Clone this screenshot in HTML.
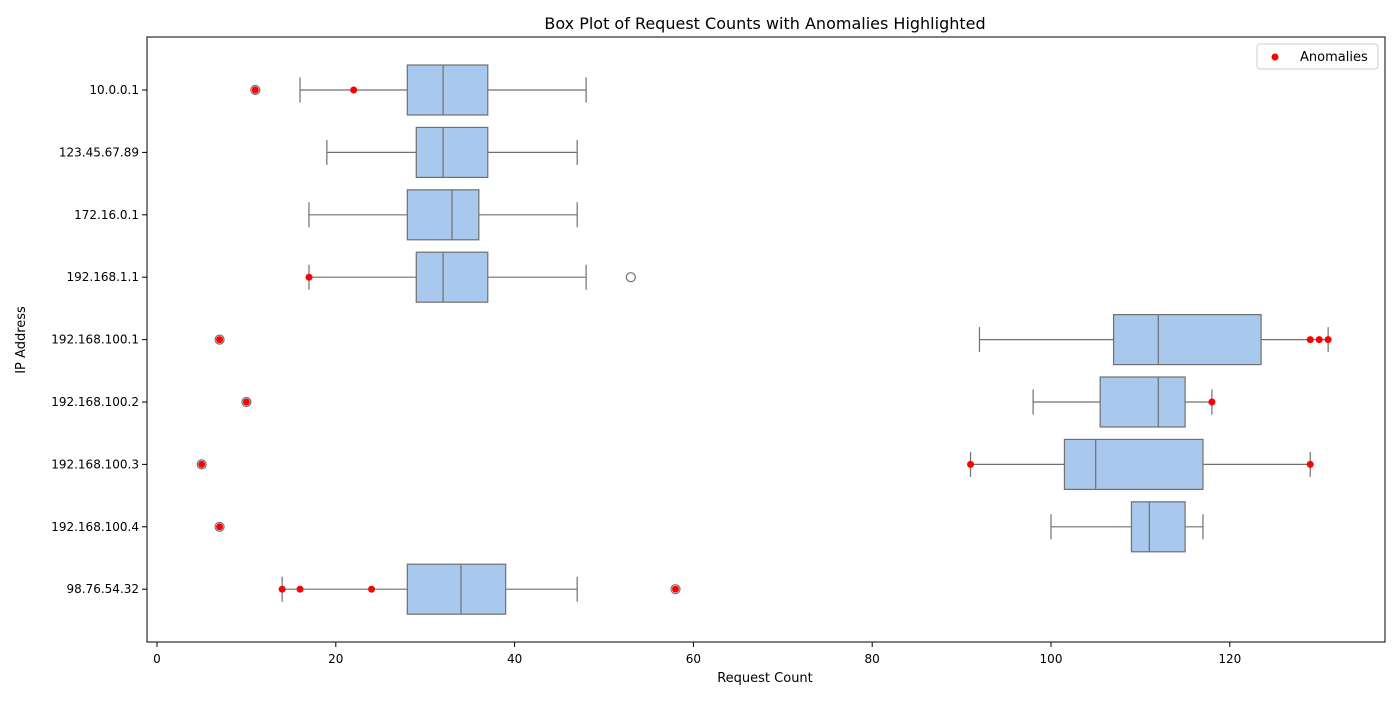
<!DOCTYPE html>
<html><head><meta charset="utf-8"><style>
body{margin:0;background:#fff;}
svg{font-family:"DejaVu Sans","Liberation Sans",sans-serif;}
</style></head><body>
<svg id="chart" width="1400" height="700" viewBox="0 0 1400 700" xmlns="http://www.w3.org/2000/svg">
<rect width="1400" height="700" fill="#fff"/>
<text x="765" y="29" text-anchor="middle" font-size="16" fill="#000">Box Plot of Request Counts with Anomalies Highlighted</text>
<g id="plot"></g>
<rect x="147" y="37" width="1238" height="605" fill="none" stroke="#000" stroke-width="1"/>
<text x="765" y="682" text-anchor="middle" font-size="13">Request Count</text>
<text x="25" y="340" text-anchor="middle" font-size="13" transform="rotate(-90 25 340)">IP Address</text>
<g>
<rect x="1257" y="44" width="121" height="25" rx="3" fill="#fff" stroke="#ccc"/>
<circle cx="1275" cy="57" r="3.5" fill="#ff0000"/>
<text x="1300" y="61" font-size="13">Anomalies</text>
</g>
</svg>
<script>
const categories=["10.0.0.1","123.45.67.89","172.16.0.1","192.168.1.1","192.168.100.1","192.168.100.2","192.168.100.3","192.168.100.4","98.76.54.32"];
const whiskerLow=[16,19,17,17,92,98,91,100,14];
const q1=[28,29,28,29,107,105.5,101.5,109,28];
const medians=[32,32,33,32,112,112,105,111,34];
const q3=[37,37,36,37,123.5,115,117,115,39];
const whiskerHigh=[48,47,47,48,131,118,129,117,47];
const outliers=[[11],[],[],[53],[7],[10],[5],[7],[58]];
const anomalies=[[11,22],[],[],[17],[7,129,130,131],[10,118],[5,91,129],[7],[14,16,24,58]];
const xTicks=[0,20,40,60,80,100,120];
const NS="http://www.w3.org/2000/svg";
const X=v=>157+8.94*v;
const Y=i=>90+62.4*i;
const g=document.getElementById('plot');
function mk(t,a){const e=document.createElementNS(NS,t);for(const k in a)e.setAttribute(k,a[k]);g.appendChild(e);return e;}
const grey="#707070";
xTicks.forEach(t=>{
  const l=mk('line',{x1:X(t),x2:X(t),y1:642,y2:647,stroke:'#000'});
  
  
  const tx=mk('text',{x:X(t),y:663,'text-anchor':'middle','font-size':12});tx.textContent=t;
  
  
});
categories.forEach((c,i)=>{
  const y=Y(i);
  const tk=mk('line',{x1:142,x2:147,y1:y,y2:y,stroke:'#000'});
  
  
  const lb=mk('text',{x:139,y:y+4,'text-anchor':'end','font-size':12});lb.textContent=c;
  
  
  const w=mk('path',{d:`M${X(whiskerLow[i])},${y}H${X(q1[i])}M${X(q3[i])},${y}H${X(whiskerHigh[i])}M${X(whiskerLow[i])},${y-12.5}V${y+12.5}M${X(whiskerHigh[i])},${y-12.5}V${y+12.5}`,stroke:grey,'stroke-width':1.2,fill:'none'});
  
  
  const b=mk('rect',{x:X(q1[i]),y:y-25,width:X(q3[i])-X(q1[i]),height:50,fill:'#a9c8ed',stroke:grey,'stroke-width':1.2});
  
  
  const m=mk('line',{x1:X(medians[i]),x2:X(medians[i]),y1:y-25,y2:y+25,stroke:grey,'stroke-width':1.2});
  
  
  outliers[i].forEach(v=>{
    const o=mk('circle',{cx:X(v),cy:y,r:4.5,fill:'none',stroke:grey,'stroke-width':1.2});
    
    
  });
  anomalies[i].forEach(v=>{
    const a=mk('circle',{cx:X(v),cy:y,r:3.5,fill:'#ff0000'});
    
    
  });
});
</script>
</body></html>
